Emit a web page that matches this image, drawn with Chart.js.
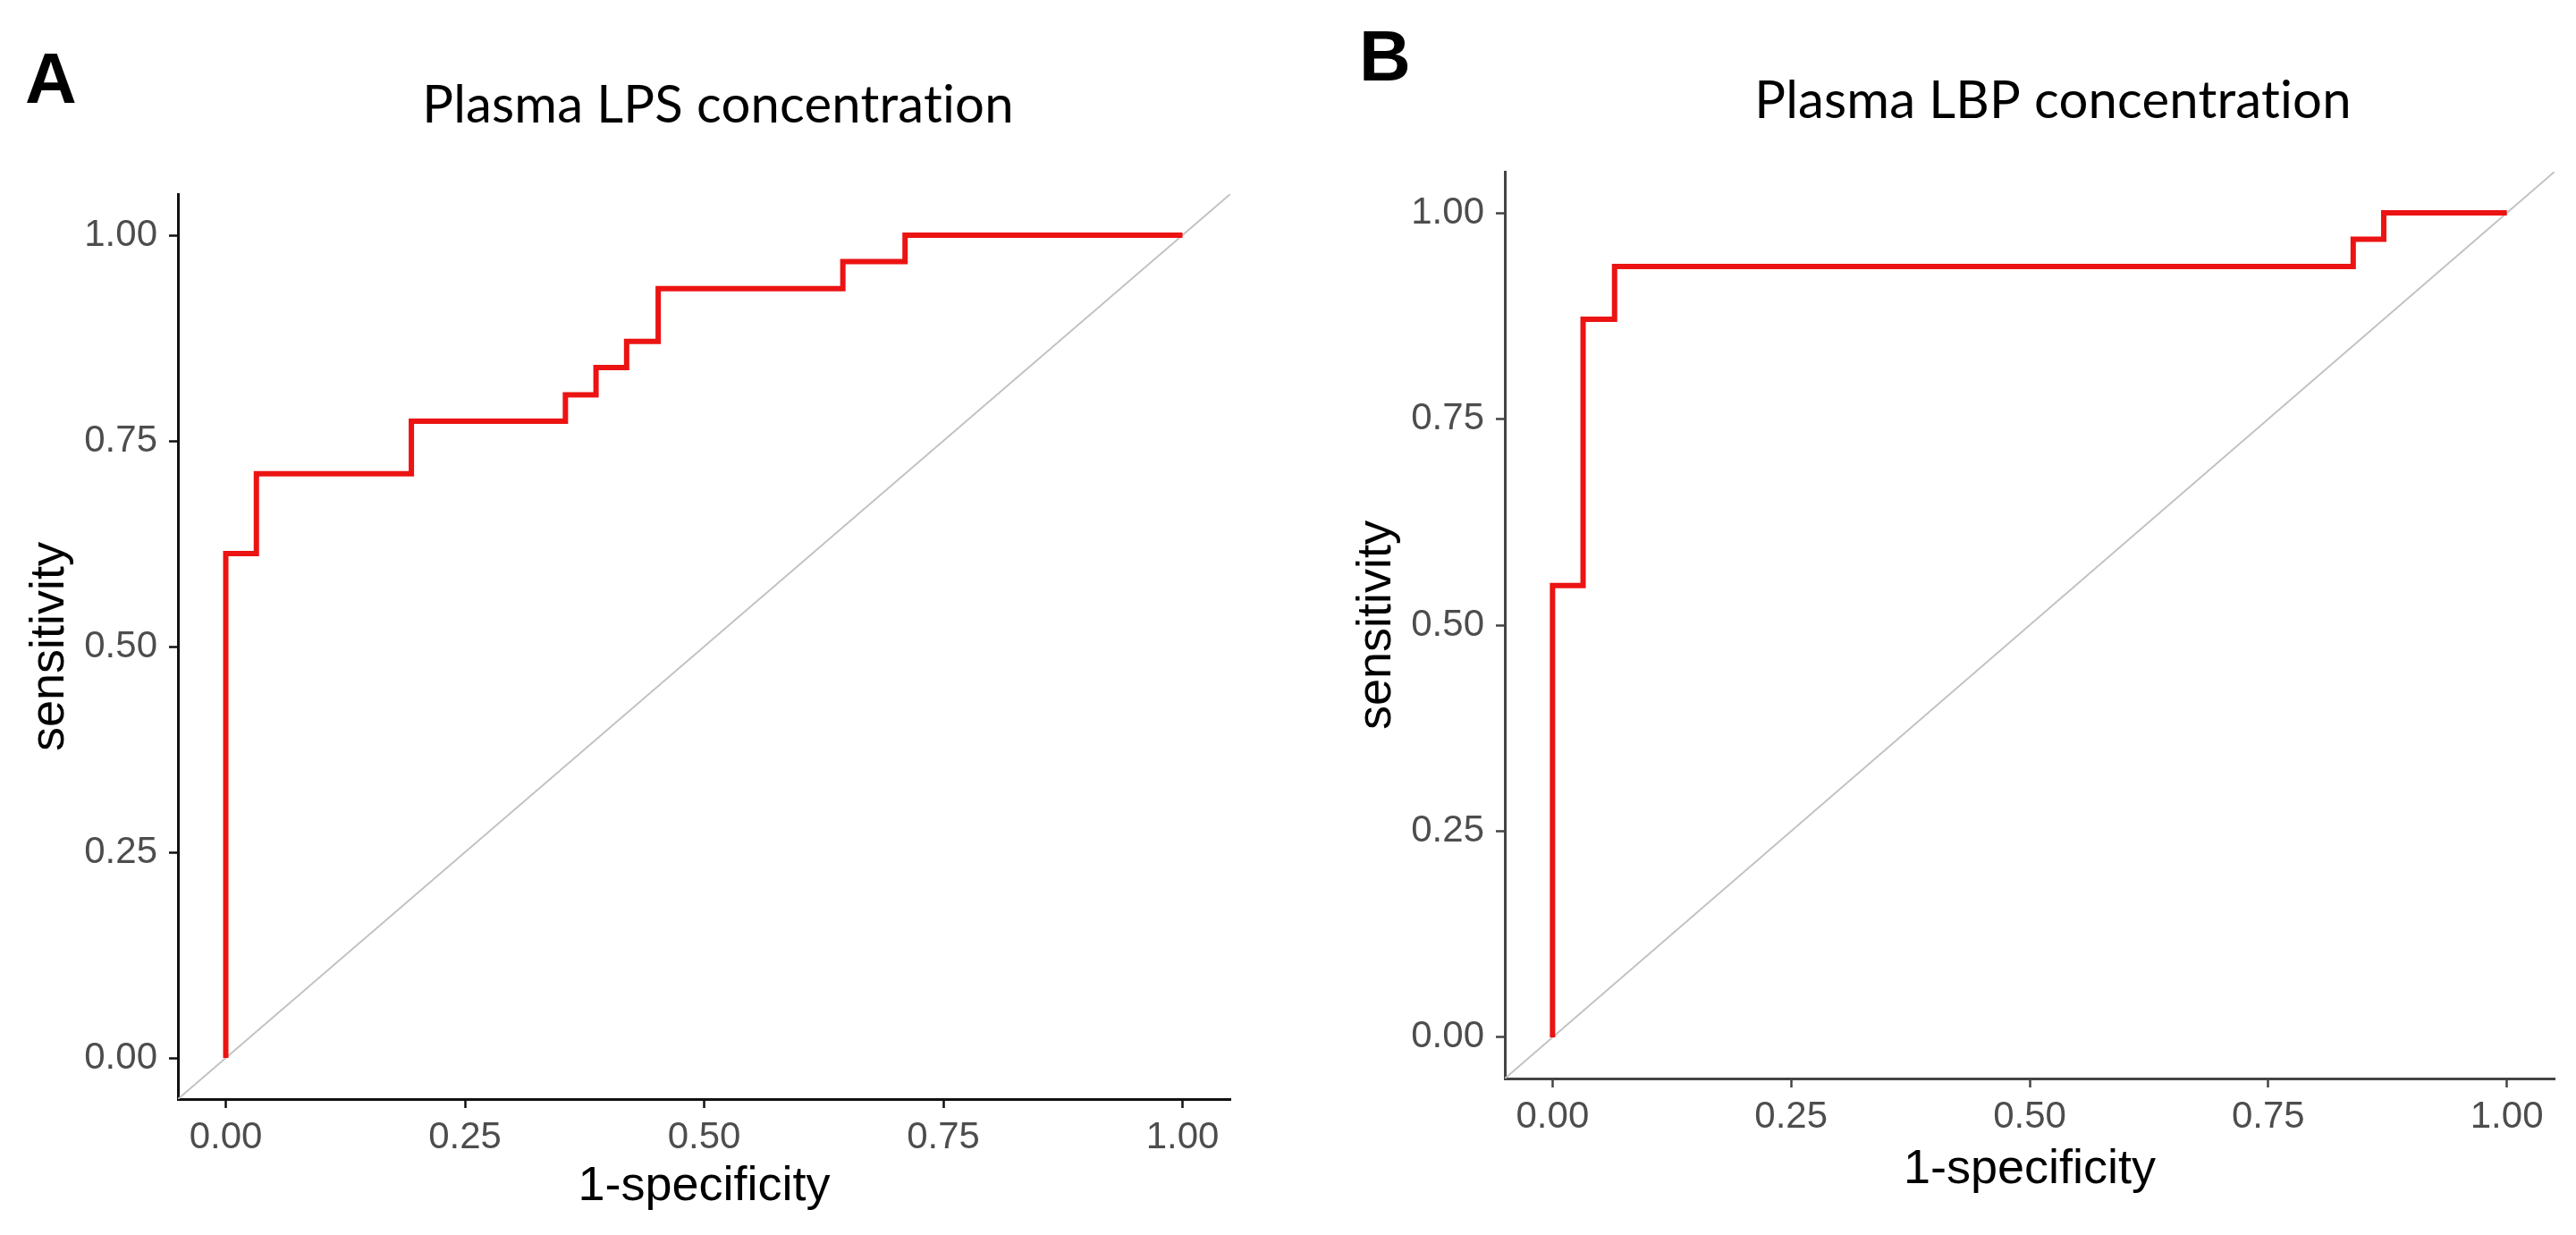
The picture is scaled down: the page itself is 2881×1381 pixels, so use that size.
<!DOCTYPE html>
<html>
<head>
<meta charset="utf-8">
<title>ROC curves</title>
<script src="https://cdn.jsdelivr.net/npm/chart.js@4.4.1/dist/chart.umd.min.js"></script>
<style>
    html, body { margin: 0; padding: 0; background: #fff; }
    body { width: 2881px; height: 1381px; position: relative; overflow: hidden; }
    canvas { position: absolute; top: 0; }
    #rocA { left: 0; }
    #rocB { left: 1440px; }
</style>
</head>
<body>
<canvas id="rocA" width="1440" height="1381"></canvas>
<canvas id="rocB" width="1441" height="1381"></canvas>
<script>
// ROC points (1-specificity, sensitivity)
const fprLPS = [0, 0, 0.032, 0.032, 0.194, 0.194, 0.355, 0.355, 0.387, 0.387, 0.419, 0.419, 0.452, 0.452, 0.645, 0.645, 0.710, 0.710, 1];
const tprLPS = [0, 0.613, 0.613, 0.710, 0.710, 0.774, 0.774, 0.806, 0.806, 0.839, 0.839, 0.871, 0.871, 0.935, 0.935, 0.968, 0.968, 1, 1];

const fprLBP = [0, 0, 0.032, 0.032, 0.065, 0.065, 0.839, 0.839, 0.871, 0.871, 1];
const tprLBP = [0, 0.548, 0.548, 0.871, 0.871, 0.935, 0.935, 0.968, 0.968, 1, 1];

// chance line spans the whole panel
const diagonal = [-0.05, 1.05];

const tickValues = [0, 0.25, 0.5, 0.75, 1];
const axisMin = -0.05;
const axisMax = 1.05;

const panelLetters = ['A', 'B'];
const panelTitles = ['Plasma LPS concentration', 'Plasma LBP concentration'];
const xTitle = '1-specificity';
const yTitle = 'sensitivity';

Chart.defaults.font.family = '"Liberation Sans", Arial, sans-serif';

const panelText = {
    id: 'panelText',
    afterDraw(chart, args, opts) {
        const ctx = chart.ctx;
        ctx.save();
        ctx.fillStyle = '#000';
        ctx.textBaseline = 'alphabetic';
        ctx.font = 'bold 80px "Liberation Sans", Arial, sans-serif';
        ctx.textAlign = 'left';
        ctx.fillText(opts.letter, opts.letterX, opts.letterY);
        ctx.font = '58px Lato, "Open Sans", sans-serif';
        // a little spacing also stops the "ti" ligature
        ctx.letterSpacing = '0.2px';
        ctx.textAlign = 'center';
        ctx.fillText(opts.title, opts.titleX, opts.titleY);
        ctx.restore();
    }
};

function toPoints(xs, ys) {
    return xs.map((x, i) => ({ x: x, y: ys[i] }));
}

function rocChart(el, fpr, tpr, idx, lay) {
    const tickStyle = {
        color: '#4d4d4d',
        font: { size: 42 },
        callback: (v) => Number(v).toFixed(2)
    };
    const grid = {
        display: true,
        drawOnChartArea: false,
        drawTicks: true,
        tickLength: 10,
        tickWidth: 2.5,
        tickColor: lay.axisColor
    };
    const border = { display: true, color: lay.axisColor, width: 3 };

    new Chart(el, {
        type: 'scatter',
        data: {
            datasets: [{
                data: toPoints(fpr, tpr),
                showLine: true,
                borderColor: '#ec1313',
                borderWidth: 6,
                borderJoinStyle: 'miter',
                pointRadius: 0,
                tension: 0,
                fill: false,
                order: 0
            }, {
                data: toPoints(diagonal, diagonal),
                showLine: true,
                borderColor: '#c2c2c2',
                borderWidth: 2,
                pointRadius: 0,
                fill: false,
                order: 1
            }]
        },
        options: {
            responsive: false,
            animation: false,
            devicePixelRatio: 1,
            layout: { padding: { left: 0, top: lay.top, right: lay.right, bottom: 0 } },
            plugins: {
                legend: { display: false },
                tooltip: { enabled: false },
                panelText: {
                    letter: panelLetters[idx],
                    title: panelTitles[idx],
                    letterX: lay.letterX,
                    letterY: lay.letterY,
                    titleX: lay.titleX,
                    titleY: lay.titleY
                }
            },
            scales: {
                x: {
                    type: 'linear',
                    min: axisMin,
                    max: axisMax,
                    afterBuildTicks: (s) => { s.ticks = tickValues.map(v => ({ value: v })); },
                    afterFit: (s) => { s.height = lay.xHeight; },
                    ticks: Object.assign({ padding: 8 }, tickStyle),
                    grid: grid,
                    border: border,
                    title: {
                        display: true,
                        text: xTitle,
                        color: '#000',
                        font: { size: 54 },
                        padding: { top: lay.xTitlePad, bottom: lay.xTitlePad }
                    }
                },
                y: {
                    type: 'linear',
                    min: axisMin,
                    max: axisMax,
                    afterBuildTicks: (s) => { s.ticks = tickValues.map(v => ({ value: v })); },
                    afterFit: (s) => { s.width = lay.yWidth; },
                    ticks: Object.assign({ padding: 13 }, tickStyle),
                    grid: grid,
                    border: border,
                    title: {
                        display: true,
                        text: yTitle,
                        color: '#000',
                        font: { size: 54 },
                        padding: { top: lay.yTitlePad, bottom: lay.yTitlePad }
                    }
                }
            }
        },
        plugins: [panelText]
    });
}

rocChart(document.getElementById('rocA'), fprLPS, tprLPS, 0, {
    top: 217, right: 64, yWidth: 199, xHeight: 152,
    xTitlePad: 21, yTitlePad: 24,
    axisColor: '#111',
    letterX: 28, letterY: 115,
    titleX: 803, titleY: 137
});

rocChart(document.getElementById('rocB'), fprLBP, tprLBP, 1, {
    top: 192, right: 24, yWidth: 243, xHeight: 175,
    xTitlePad: 40, yTitlePad: 68,
    axisColor: '#444',
    letterX: 80, letterY: 90,
    titleX: 856, titleY: 132
});
</script>
</body>
</html>
